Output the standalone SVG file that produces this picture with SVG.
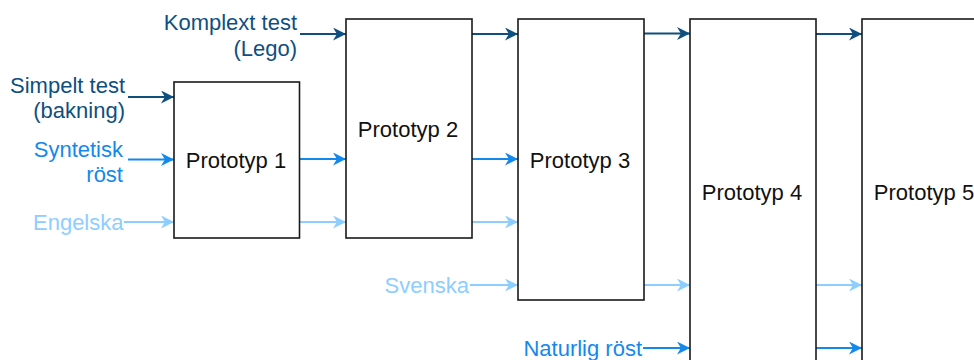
<svg xmlns="http://www.w3.org/2000/svg" width="974" height="360" viewBox="0 0 974 360">
<style>
.box{fill:#fff;stroke:#1a1a1a;stroke-width:1.6}
.t{font-family:"Liberation Sans",Arial,sans-serif;font-size:22px}
.bt{fill:#111;text-anchor:middle}
.lab{text-anchor:end}
.dk{stroke:#0F4F7F;fill:none;stroke-width:2}
.md{stroke:#1389EC;fill:none;stroke-width:2}
.lt{stroke:#8ECDFF;fill:none;stroke-width:2}
</style>
<defs>
<marker id="aD" viewBox="0 0 10 10" refX="10" refY="5" markerWidth="6.5" markerHeight="6.5" markerUnits="strokeWidth" orient="auto"><path d="M0,0 L10,5 L0,10 L3,5 Z" fill="#0F4F7F"/></marker>
<marker id="aM" viewBox="0 0 10 10" refX="10" refY="5" markerWidth="6.5" markerHeight="6.5" markerUnits="strokeWidth" orient="auto"><path d="M0,0 L10,5 L0,10 L3,5 Z" fill="#1389EC"/></marker>
<marker id="aL" viewBox="0 0 10 10" refX="10" refY="5" markerWidth="6.5" markerHeight="6.5" markerUnits="strokeWidth" orient="auto"><path d="M0,0 L10,5 L0,10 L3,5 Z" fill="#8ECDFF"/></marker>
</defs>
<rect width="974" height="360" fill="#fff"/>
<g id="connectors">
<path class="dk" marker-end="url(#aD)" d="M300,34 H346"/>
<path class="dk" marker-end="url(#aD)" d="M128,97 H174"/>
<path class="md" marker-end="url(#aM)" d="M128,159.5 H174"/>
<path class="lt" marker-end="url(#aL)" d="M124,222 H174"/>
<path class="md" marker-end="url(#aM)" d="M300,159 H346"/>
<path class="lt" marker-end="url(#aL)" d="M300,222 H346"/>
<path class="dk" marker-end="url(#aD)" d="M472,34 H518"/>
<path class="md" marker-end="url(#aM)" d="M472,159 H518"/>
<path class="lt" marker-end="url(#aL)" d="M472,222 H518"/>
<path class="lt" marker-end="url(#aL)" d="M470,285 H518"/>
<path class="dk" marker-end="url(#aD)" d="M644,33.5 H690"/>
<path class="lt" marker-end="url(#aL)" d="M644,285 H690"/>
<path class="md" marker-end="url(#aM)" d="M643,348 H690"/>
<path class="dk" marker-end="url(#aD)" d="M816,34 H862"/>
<path class="lt" marker-end="url(#aL)" d="M816,285 H862"/>
<path class="md" marker-end="url(#aM)" d="M816,348 H862"/>
</g>
<g id="p1"><rect class="box" x="174" y="82" width="125.5" height="156"/><text class="t bt" x="236" y="168">Prototyp 1</text></g>
<g id="p2"><rect class="box" x="346" y="19" width="126" height="219"/><text class="t bt" x="408" y="137">Prototyp 2</text></g>
<g id="p3"><rect class="box" x="518" y="19" width="126" height="281"/><text class="t bt" x="580" y="168">Prototyp 3</text></g>
<g id="p4"><rect class="box" x="690" y="19" width="126" height="350"/><text class="t bt" x="752" y="200">Prototyp 4</text></g>
<g id="p5"><rect class="box" x="862" y="19" width="126" height="350"/><text class="t bt" x="924" y="200">Prototyp 5</text></g>
<g id="l-komplext"><text class="t lab" fill="#0F4F7F"><tspan x="297" y="30">Komplext test</tspan><tspan x="297" y="55.5">(Lego)</tspan></text></g>
<g id="l-simpelt"><text class="t lab" fill="#0F4F7F"><tspan x="125" y="93">Simpelt test</tspan><tspan x="125" y="118">(bakning)</tspan></text></g>
<g id="l-syntetisk"><text class="t lab" fill="#1389EC"><tspan x="123" y="156.5">Syntetisk</tspan><tspan x="123" y="182">röst</tspan></text></g>
<g id="l-engelska"><text class="t lab" fill="#8ECDFF" x="123.5" y="230">Engelska</text></g>
<g id="l-svenska"><text class="t lab" fill="#8ECDFF" x="469" y="293">Svenska</text></g>
<g id="l-naturlig"><text class="t lab" fill="#1389EC" x="642" y="356">Naturlig röst</text></g>
</svg>
